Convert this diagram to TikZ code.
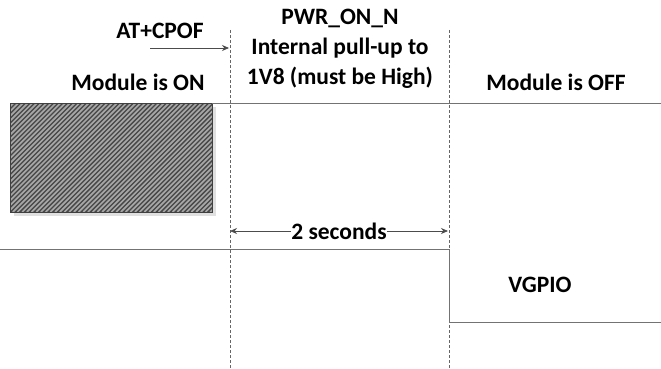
\documentclass[tikz,border=0pt]{standalone}
\usepackage{fontspec}
\setmainfont{Carlito}
\usetikzlibrary{arrows.meta}
\begin{document}
\begin{tikzpicture}[x=1pt,y=-1pt,
  lbl/.style={font=\bfseries\fontsize{23.5}{30}\selectfont, text=black, inner sep=0pt, align=center},
  sig/.style={draw=black!55, line width=1pt},
  guide/.style={draw=black!60, dashed, dash pattern=on 3pt off 2pt, line width=0.6pt},
  stripe/.style={draw=black!35, line width=1.7pt},
  arr/.style={draw=black!70, line width=0.8pt, -{Stealth[length=7pt,width=6pt]}}]
\useasboundingbox (0,0) rectangle (661,369);
% guides
\coordinate (g1t) at (230,30); \coordinate (g1b) at (230,369);
\coordinate (g2t) at (449,30); \coordinate (g2b) at (449,369);
\draw[guide] (g1t) -- (g1b);
\draw[guide] (g2t) -- (g2b);
% hatched box
\fill[black!12] (14,107) rectangle (216,216);
\fill[black!72] (10,103) rectangle (212,212);
\begin{scope}
  \clip (10,103) rectangle (212,212);
  \foreach \i in {0,...,70} {
    \draw[stripe] ({-100+4.7*\i},212) -- ++(109,-109);
  }
\end{scope}
\draw[black!75, line width=0.8pt] (10,103) rectangle (212,212);
% top signal
\coordinate (s1a) at (212,103); \coordinate (s1b) at (661,103);
\draw[sig] (s1a) -- (s1b);
% VGPIO signal
\coordinate (v1) at (0,249); \coordinate (v2) at (449,249);
\coordinate (v3) at (449,322); \coordinate (v4) at (661,322);
\draw[sig] (v1) -- (v2) -- (v3) -- (v4);
% texts
\node[lbl] (atc) at (160,31) {AT+CPOF};
\coordinate (a1) at (150,48); \coordinate (a2) at (229,48);
\draw[arr] (a1) -- (a2);
\node[lbl] (on) at (138,82) {Module is ON};
\node[lbl] (pwr) at (340,49) {PWR\_ON\_N\\Internal pull-up to\\1V8 (must be High)};
\node[lbl] (off) at (556,82) {Module is OFF};
\node[lbl] (sec) at (339,231) {2 seconds};
\coordinate (l1) at (230,231); \coordinate (l2) at (448,231);
\draw[arr] (sec.west) -- (l1);
\draw[arr] (sec.east) -- (l2);
\node[lbl] (vg) at (540,285) {VGPIO};
\end{tikzpicture}
\end{document}
